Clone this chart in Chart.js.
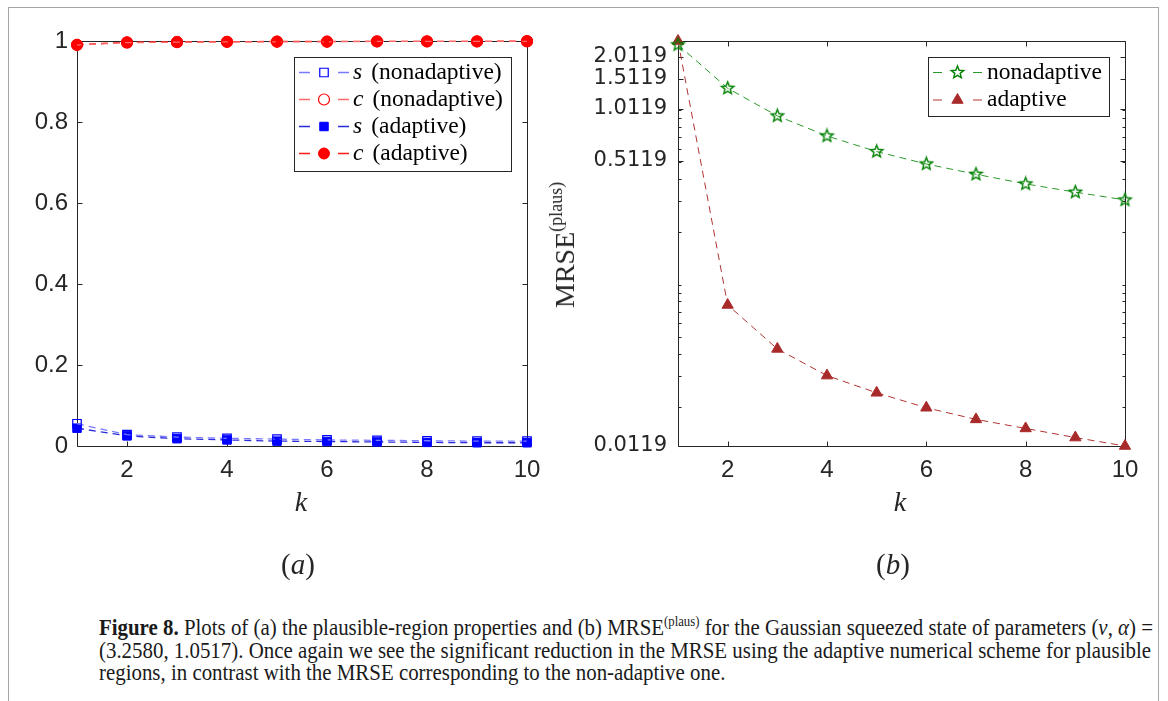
<!DOCTYPE html>
<html><head><meta charset="utf-8">
<script src="https://cdn.jsdelivr.net/npm/chart.js@4/dist/chart.umd.min.js"></script>
<style>
html,body{margin:0;padding:0;background:#fff;}
body{width:1168px;height:701px;overflow:hidden;position:relative;}
#frame{position:absolute;left:8px;top:7px;width:1151px;height:740px;border:1px solid #a6a6a6;box-sizing:border-box;}
#c1{position:absolute;left:0;top:0;}
#c2{position:absolute;left:560px;top:0;}
.lbl{position:absolute;font-family:"Liberation Serif",serif;color:#262626;transform:translate(-50%,-50%);white-space:nowrap;}
#ylab{position:absolute;left:565px;top:245px;font:28px "Liberation Serif",serif;color:#262626;transform:translate(-50%,-50%) rotate(-90deg);white-space:nowrap;}
#ylab sup{font-size:18px;line-height:0;vertical-align:12px;}
#cap{position:absolute;left:99px;top:617px;font:23px "Liberation Serif",serif;line-height:22.5px;color:#1a1a1a;white-space:nowrap;transform-origin:0 0;}
#cap sup{font-size:14px;line-height:0;vertical-align:9px;}
</style></head>
<body>
<div id="frame"></div>
<canvas id="c1" width="560" height="600"></canvas>
<canvas id="c2" width="608" height="600"></canvas>
<div class="lbl" style="left:301px;top:502px;font-size:28px;font-style:italic">k</div>
<div class="lbl" style="left:900px;top:502px;font-size:28px;font-style:italic">k</div>
<div class="lbl" style="left:298px;top:564px;font-size:29px">(<i>a</i>)</div>
<div class="lbl" style="left:893px;top:564px;font-size:29px">(<i>b</i>)</div>
<div id="ylab">MRSE<sup>(plaus)</sup></div>
<div id="cap">
<div class="ln"><b>Figure 8.</b> Plots of (a) the plausible-region properties and (b) MRSE<sup>(plaus)</sup> for the Gaussian squeezed state of parameters (<i>ν</i>, <i>α</i>) =</div>
<div class="ln">(3.2580, 1.0517). Once again we see the significant reduction in the MRSE using the adaptive numerical scheme for plausible</div>
<div class="ln">regions, in contrast with the MRSE corresponding to the non-adaptive one.</div>
</div>
<script>
// ---------- data ----------
const kValues = [1, 2, 3, 4, 5, 6, 7, 8, 9, 10];
const sNonadaptive = [0.055, 0.028, 0.022, 0.019, 0.017, 0.015, 0.014, 0.013, 0.012, 0.012];
const cNonadaptive = [0.990, 0.996, 0.997, 0.998, 0.998, 0.998, 0.999, 0.999, 0.999, 0.999];
const sAdaptive = [0.044, 0.025, 0.018, 0.015, 0.012, 0.011, 0.010, 0.009, 0.008, 0.008];
const cAdaptive = [0.991, 0.997, 0.998, 0.998, 0.999, 0.999, 0.999, 0.999, 0.999, 1.000];
const mrseNonadaptive = [2.36, 1.33, 0.924, 0.709, 0.577, 0.490, 0.428, 0.377, 0.338, 0.305];
const mrseAdaptive = [2.48, 0.0764, 0.0428, 0.0301, 0.0240, 0.0197, 0.0169, 0.0150, 0.0133, 0.0119];
const xTickValues = [2, 4, 6, 8, 10];
const yTicksA = [0, 0.2, 0.4, 0.6, 0.8, 1];
const yTicksB = [0.0119, 0.5119, 1.0119, 1.5119, 2.0119];
const yMinorB = [0.02, 0.03, 0.04, 0.05, 0.06, 0.07, 0.08, 0.09, 0.1, 0.2, 0.3, 0.4, 0.5, 0.6, 0.7, 0.8, 0.9, 1, 2];
const labelsA = ['s (nonadaptive)', 'c (nonadaptive)', 's (adaptive)', 'c (adaptive)'];
const labelsB = ['nonadaptive', 'adaptive'];

const pts = arr => kValues.map((k, i) => ({x: k, y: arr[i]}));

function makeStar(color, R, r, lw) {
  const size = Math.ceil(2 * R + lw + 2);
  const c = document.createElement('canvas'); c.width = size; c.height = size;
  const g = c.getContext('2d'); const cx = size / 2, cy = size / 2;
  g.beginPath();
  for (let i = 0; i < 10; i++) {
    const ang = -Math.PI / 2 + i * Math.PI / 5; const rad = i % 2 ? r : R;
    g.lineTo(cx + rad * Math.cos(ang), cy + rad * Math.sin(ang));
  }
  g.closePath(); g.strokeStyle = color; g.lineWidth = lw; g.stroke();
  return c;
}
const starImg = makeStar('#008000', 6.5, 2.8, 1.4);

const boxPlugin = {
  id: 'mbox',
  beforeDatasetsDraw(chart, args, o) {
    const {ctx, chartArea: a, scales: {x, y}} = chart;
    ctx.save();
    ctx.strokeStyle = '#262626'; ctx.lineWidth = 1; ctx.setLineDash([]);
    const L = Math.round(a.left) + 0.5, R = Math.round(a.right) + 0.5, T = Math.round(a.top) + 0.5, B = Math.round(a.bottom) + 0.5;
    ctx.beginPath();
    ctx.rect(L, T, R - L, B - T);
    for (const v of o.xTicks) { const p = Math.round(x.getPixelForValue(v)) + 0.5; ctx.moveTo(p, B); ctx.lineTo(p, B - o.len); ctx.moveTo(p, T); ctx.lineTo(p, T + o.len); }
    for (const v of o.yTicks) { const p = Math.round(y.getPixelForValue(v)) + 0.5; ctx.moveTo(L, p); ctx.lineTo(L + o.len, p); ctx.moveTo(R, p); ctx.lineTo(R - o.len, p); }
    for (const v of (o.yMinor || [])) { const p = Math.round(y.getPixelForValue(v)) + 0.5; ctx.moveTo(L, p); ctx.lineTo(L + o.minorLen, p); ctx.moveTo(R, p); ctx.lineTo(R - o.minorLen, p); }
    ctx.stroke();
    ctx.restore();
  }
};

const legendPlugin = {
  id: 'mlegend',
  afterDatasetsDraw(chart, args, o) {
    const ctx = chart.ctx; const b = o.box;
    ctx.save();
    ctx.fillStyle = '#fff'; ctx.fillRect(b.left, b.top, b.width, b.height);
    ctx.strokeStyle = '#262626'; ctx.lineWidth = 1; ctx.setLineDash([]);
    ctx.strokeRect(b.left + 0.5, b.top + 0.5, b.width, b.height);
    chart.data.datasets.forEach((ds, i) => {
      const y = b.firstY + i * b.rowH;
      const x0 = b.left + o.inset;
      ctx.setLineDash([]);
      ctx.strokeStyle = ds.borderColor; ctx.lineWidth = ds.borderWidth;
      ctx.beginPath(); ctx.moveTo(x0, y); ctx.lineTo(x0 + o.dash, y); ctx.moveTo(x0 + o.sampleW - o.dash, y); ctx.lineTo(x0 + o.sampleW, y); ctx.stroke();
      ctx.fillStyle = ds.pointBackgroundColor; ctx.strokeStyle = ds.pointBorderColor; ctx.lineWidth = ds.pointBorderWidth;
      Chart.helpers.drawPoint(ctx, {pointStyle: ds.pointStyle, radius: ds.pointRadius, rotation: 0, borderWidth: ds.pointBorderWidth}, x0 + o.sampleW / 2, y);
      let tx = x0 + o.sampleW + o.gap;
      ctx.fillStyle = '#000'; ctx.textBaseline = 'middle'; ctx.textAlign = 'left';
      if (o.italicFirst) {
        const sp = ds.label.indexOf(' ');
        const v = ds.label.slice(0, sp), rest = ds.label.slice(sp + 1);
        ctx.font = 'italic ' + o.font; ctx.fillText(v, tx, y);
        tx += ctx.measureText(v).width + o.varGap;
        ctx.font = o.font; ctx.fillText(rest, tx, y);
      } else { ctx.font = o.font; ctx.fillText(ds.label, tx, y); }
    });
    ctx.restore();
  }
};

const tickColor = '#262626';

new Chart(document.getElementById('c1'), {
  type: 'line',
  data: {datasets: [
    {label: labelsA[0], data: pts(sNonadaptive), borderColor: '#7a7aff', borderWidth: 1.3, borderDash: [7, 5], pointStyle: 'rect', pointRadius: 6, pointBorderWidth: 1.2, pointBackgroundColor: 'rgba(0,0,0,0)', pointBorderColor: '#0000ff', clip: false},
    {label: labelsA[1], data: pts(cNonadaptive), borderColor: '#ff6a6a', borderWidth: 1.3, borderDash: [7, 5], pointStyle: 'circle', pointRadius: 5.5, pointBorderWidth: 1.2, pointBackgroundColor: 'rgba(0,0,0,0)', pointBorderColor: '#ff0000', clip: false},
    {label: labelsA[2], data: pts(sAdaptive), borderColor: '#2a2ad8', borderWidth: 1.3, borderDash: [7, 5], pointStyle: 'rect', pointRadius: 6, pointBorderWidth: 1, pointBackgroundColor: '#0000ff', pointBorderColor: '#0000ff', clip: false},
    {label: labelsA[3], data: pts(cAdaptive), borderColor: '#ff1a1a', borderWidth: 1.3, borderDash: [7, 5], pointStyle: 'circle', pointRadius: 5.5, pointBorderWidth: 1, pointBackgroundColor: '#ff0000', pointBorderColor: '#ff0000', clip: false}
  ]},
  options: {
    responsive: false, animation: false, devicePixelRatio: 1,
    layout: {padding: {left: 0, right: 33, top: 41, bottom: 0}},
    plugins: {legend: {display: false}, tooltip: {enabled: false},
      mbox: {xTicks: xTickValues, yTicks: yTicksA, len: 5},
      mlegend: {box: {left: 294, top: 57, width: 217, height: 114, firstY: 72.5, rowH: 27}, inset: 5, sampleW: 50, dash: 11, gap: 4, varGap: 9, italicFirst: true, font: '23.5px "Liberation Serif"'}
    },
    scales: {
      x: {type: 'linear', min: 1, max: 10,
        afterBuildTicks: s => { s.ticks = xTickValues.map(v => ({value: v})); },
        afterFit: s => { s.height = 154; },
        grid: {display: false, drawTicks: false}, border: {display: false},
        ticks: {color: tickColor, font: {family: 'Liberation Sans', size: 24}, padding: 10, autoSkip: false, maxRotation: 0}},
      y: {type: 'linear', min: 0, max: 1,
        afterBuildTicks: s => { s.ticks = yTicksA.map(v => ({value: v})); },
        afterFit: s => { s.width = 77; },
        grid: {display: false, drawTicks: false}, border: {display: false},
        ticks: {color: tickColor, font: {family: 'Liberation Sans', size: 24}, padding: 9, autoSkip: false, callback: v => String(v)}}
    }
  },
  plugins: [boxPlugin, legendPlugin]
});

new Chart(document.getElementById('c2'), {
  type: 'line',
  data: {datasets: [
    {label: labelsB[0], data: pts(mrseNonadaptive), borderColor: '#2a992a', borderWidth: 1, borderDash: [7, 5], pointStyle: starImg, pointRadius: 7, pointBorderWidth: 1, pointBackgroundColor: 'rgba(0,0,0,0)', pointBorderColor: '#008000', clip: false},
    {label: labelsB[1], data: pts(mrseAdaptive), borderColor: '#b03434', borderWidth: 1, borderDash: [7, 5], pointStyle: 'triangle', pointRadius: 6.5, pointBorderWidth: 1, pointBackgroundColor: '#a82a2a', pointBorderColor: '#a82a2a', clip: false}
  ]},
  options: {
    responsive: false, animation: false, devicePixelRatio: 1,
    layout: {padding: {left: 0, right: 43, top: 41, bottom: 0}},
    plugins: {legend: {display: false}, tooltip: {enabled: false},
      mbox: {xTicks: xTickValues, yTicks: yTicksB, yMinor: yMinorB, len: 5, minorLen: 3},
      mlegend: {box: {left: 368, top: 57, width: 181, height: 59, firstY: 72.5, rowH: 27.5}, inset: 5, sampleW: 49, dash: 9, gap: 5, varGap: 0, italicFirst: false, font: '23.5px "Liberation Serif"'}
    },
    scales: {
      x: {type: 'linear', min: 1, max: 10,
        afterBuildTicks: s => { s.ticks = xTickValues.map(v => ({value: v})); },
        afterFit: s => { s.height = 154; },
        grid: {display: false, drawTicks: false}, border: {display: false},
        ticks: {color: tickColor, font: {family: 'Liberation Sans', size: 24}, padding: 10, autoSkip: false, maxRotation: 0}},
      y: {type: 'logarithmic', min: 0.0119, max: 2.48,
        afterBuildTicks: s => { s.ticks = yTicksB.map(v => ({value: v})); },
        afterFit: s => { s.width = 118; },
        grid: {display: false, drawTicks: false}, border: {display: false},
        ticks: {color: tickColor, font: {family: 'DejaVu Sans', size: 21}, padding: 11, autoSkip: false, callback: v => Number(v).toFixed(4)}}
    }
  },
  plugins: [boxPlugin, legendPlugin]
});

// fit caption width
const cap = document.getElementById('cap');
const firstLine = cap.querySelector('.ln');
const range = document.createRange(); range.selectNodeContents(firstLine);
const w = range.getBoundingClientRect().width;
cap.style.transform = 'scaleX(' + (1054 / w) + ')';
</script>
</body></html>
